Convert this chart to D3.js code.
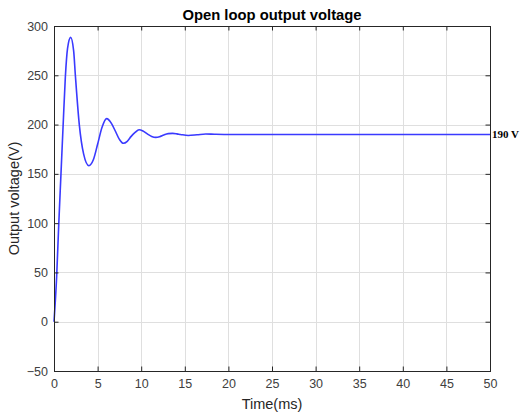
<!DOCTYPE html>
<html lang="en">
<head>
  <meta charset="UTF-8">
  <title>Open loop output voltage</title>
  <script src="https://d3js.org/d3.v7.min.js"></script>
  <style>
    body { margin: 0; background: #fff; }
    svg text { font-family: "Liberation Sans", Arial, sans-serif; fill: #262626; }
  </style>
</head>
<body>
  <div id="chart"></div>

  <script>
    // time in ms, voltage in V
    const timeMs = [0, 0.3, 0.55, 0.8, 1.05, 1.3, 1.55, 1.91, 2.25, 2.45, 2.9, 3.4, 4.0,
      4.5, 5.0, 5.5, 6.04, 6.6, 7.0, 7.5, 7.95, 8.4, 8.85, 9.3, 9.75, 10.2, 10.7, 11.2, 11.66,
      12.1, 12.6, 13.1, 13.6, 14.1, 14.5, 15.4, 16.4, 17.4, 18.4, 19.5, 22, 30, 40, 50];
    const voltage = [0, 45, 100, 150, 200, 248, 277, 288.5, 275, 250, 200, 170, 158.3,
      164, 180, 197, 206, 201, 194, 185, 181, 183, 188, 192, 194.8, 193.5, 190.5, 188, 187,
      187.6, 189.5, 190.8, 191.1, 190.6, 190, 188.9, 189.6, 190.5, 190.2, 190, 190, 190, 190, 190];

    const xTicks = [0, 5, 10, 15, 20, 25, 30, 35, 40, 45, 50];
    const yTicks = [-50, 0, 50, 100, 150, 200, 250, 300];
    const finalValue = 190;

    const width = 521, height = 414;
    const plot = { left: 54, right: 490, top: 26, bottom: 371 };

    const svg = d3.select("#chart").append("svg")
      .attr("width", width)
      .attr("height", height);

    const x = d3.scaleLinear().domain([0, 50]).range([plot.left, plot.right]);
    const y = d3.scaleLinear().domain([-50, 300]).range([plot.bottom, plot.top]);

    // grid
    const grid = svg.append("g").attr("stroke", "#dfdfdf").attr("stroke-width", 1);
    grid.selectAll(".vg").data(xTicks.slice(1, -1)).enter().append("line")
      .attr("x1", d => Math.round(x(d)) + 0.5).attr("x2", d => Math.round(x(d)) + 0.5)
      .attr("y1", plot.top).attr("y2", plot.bottom);
    grid.selectAll(".hg").data(yTicks.slice(1, -1)).enter().append("line")
      .attr("y1", d => Math.round(y(d)) + 0.5).attr("y2", d => Math.round(y(d)) + 0.5)
      .attr("x1", plot.left).attr("x2", plot.right);

    // trace
    const line = d3.line()
      .x((d, i) => x(timeMs[i]))
      .y(d => y(d))
      .curve(d3.curveMonotoneX);

    svg.append("path")
      .datum(voltage)
      .attr("fill", "none")
      .attr("stroke", "#3a3aff")
      .attr("stroke-width", 1.6)
      .attr("d", line);

    // axes (ticks inward on all four sides, like a boxed plot)
    const tickLen = 4.5;
    const axisStyle = g => {
      g.select(".domain").remove();
      g.selectAll(".tick line").attr("stroke", "#262626");
      g.selectAll(".tick text").style("font-size", "12.5px").style("fill", "#404040");
    };

    svg.append("g")
      .attr("transform", `translate(0,${plot.bottom})`)
      .call(d3.axisBottom(x).tickValues(xTicks).tickSizeInner(-tickLen).tickSizeOuter(0).tickPadding(8))
      .call(axisStyle);
    svg.append("g")
      .attr("transform", `translate(0,${plot.top})`)
      .call(d3.axisTop(x).tickValues(xTicks).tickSizeInner(-tickLen).tickSizeOuter(0).tickFormat(""))
      .call(axisStyle);
    svg.append("g")
      .attr("transform", `translate(${plot.left},0)`)
      .call(d3.axisLeft(y).tickValues(yTicks).tickSizeInner(-tickLen).tickSizeOuter(0).tickPadding(6))
      .call(axisStyle);
    svg.append("g")
      .attr("transform", `translate(${plot.right},0)`)
      .call(d3.axisRight(y).tickValues(yTicks).tickSizeInner(-tickLen).tickSizeOuter(0).tickFormat(""))
      .call(axisStyle);

    svg.append("rect")
      .attr("x", plot.left + 0.5).attr("y", plot.top + 0.5)
      .attr("width", plot.right - plot.left).attr("height", plot.bottom - plot.top)
      .attr("fill", "none").attr("stroke", "#262626").attr("stroke-width", 1);

    // texts
    svg.append("text")
      .attr("x", (plot.left + plot.right) / 2).attr("y", 20)
      .attr("text-anchor", "middle")
      .style("font-size", "14.8px").style("font-weight", "bold")
      .style("fill", "#000")
      .text("Open loop output voltage");

    svg.append("text")
      .attr("x", (plot.left + plot.right) / 2).attr("y", 409)
      .attr("text-anchor", "middle")
      .style("font-size", "14.5px")
      .text("Time(ms)");

    svg.append("text")
      .attr("transform", `translate(19,${(plot.top + plot.bottom) / 2}) rotate(-90)`)
      .attr("text-anchor", "middle")
      .style("font-size", "14.5px")
      .text("Output voltage(V)");

    svg.append("text")
      .attr("x", plot.right + 2).attr("y", y(finalValue) + 4)
      .style("font-family", "'Liberation Serif', 'Times New Roman', serif")
      .style("font-size", "11px").style("font-weight", "bold").style("fill", "#000")
      .text(finalValue + " V");
  </script>
</body>
</html>
